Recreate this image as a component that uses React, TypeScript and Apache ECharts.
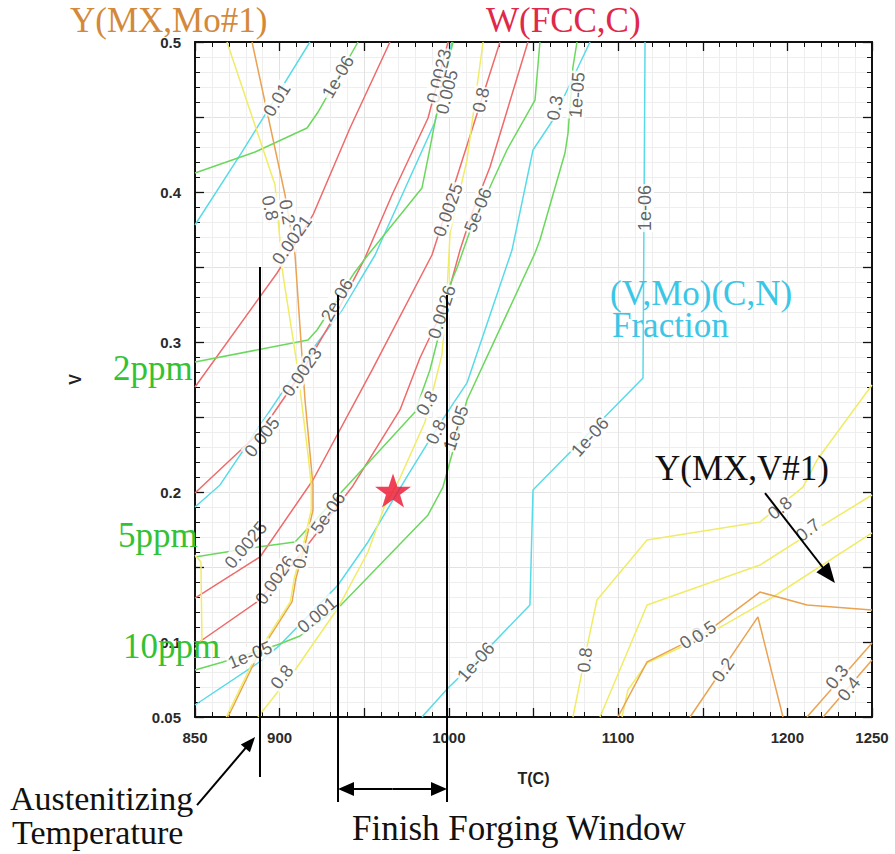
import React, { useEffect, useRef } from "react";
import * as echarts from "echarts";

// ---------- axis ticks ----------
const xTickLabels = [850, 900, 1000, 1100, 1200, 1250];
const yTickLabels = [0.05, 0.1, 0.2, 0.3, 0.4, 0.5];

// ---------- contour lines [T(C), V] ----------
// (V,Mo)(C,N) fraction - cyan
const cyan001 = [[850, 0.378], [877.8, 0.4267], [917.9, 0.5]];
const cyan0005 = [[850, 0.19], [864.8, 0.2047], [910.3, 0.2813], [936.9, 0.3213], [956.4, 0.358], [991.8, 0.4467], [1001.8, 0.5]];
const cyan1e05 = [[850, 0.058], [887.2, 0.086], [899, 0.0967], [934.5, 0.138], [952.2, 0.1667], [975.8, 0.2113], [993, 0.2427], [1010.7, 0.2727], [1037.3, 0.3613], [1049.7, 0.428], [1061.5, 0.448], [1083.4, 0.5]];
const cyan1e06 = [[984.1, 0.05], [999.5, 0.0693], [1016.6, 0.088], [1047.9, 0.1247], [1049.7, 0.2013], [1114.7, 0.276], [1115.9, 0.5]];
// W(FCC,C) - red
const red0021 = [[850, 0.27], [898.5, 0.346], [919.7, 0.3847], [941.6, 0.4427], [965.2, 0.5]];
const red0023 = [[850, 0.1993], [889.6, 0.2413], [913.2, 0.28], [934.5, 0.3213], [949.9, 0.3547], [966.4, 0.398], [987.7, 0.4493], [999.5, 0.5]];
const red0025 = [[850, 0.1293], [888.4, 0.1567], [919.7, 0.208], [954.6, 0.2813], [990, 0.358], [998.9, 0.3893], [1030.2, 0.5]];
const red0026 = [[850, 0.098], [886.6, 0.1267], [912, 0.158], [942.8, 0.2033], [971.1, 0.2547], [982.9, 0.2893], [997.7, 0.3247], [1006.6, 0.3613], [1013.7, 0.386], [1024.3, 0.4167], [1046.7, 0.5]];
// nitrogen ppm - green
const green1e06 = [[850, 0.4127], [885.5, 0.4267], [916.2, 0.4427], [922.7, 0.4533], [946.3, 0.5]];
const green2e06 = [[850, 0.2867], [916.8, 0.3013], [922.1, 0.308], [944.5, 0.3467], [952.2, 0.358], [984.1, 0.4027], [987.7, 0.4227], [991.8, 0.4467], [1002.4, 0.5]];
const green5e06 = [[850, 0.1567], [887.2, 0.1633], [909.1, 0.1667], [940.4, 0.2047], [980, 0.2533], [988.8, 0.2813], [994.8, 0.308], [998.9, 0.3333], [1004.8, 0.3493], [1013.7, 0.378], [1024.3, 0.4033], [1034.3, 0.428], [1050.9, 0.4613], [1053.8, 0.5]];
const green1e05 = [[850, 0.0813], [866.5, 0.0867], [898.4, 0.098], [912, 0.104], [935.7, 0.124], [987.7, 0.1847], [996.5, 0.2033], [1010.7, 0.2613], [1050.9, 0.3593], [1053.8, 0.368], [1068.6, 0.426], [1070.4, 0.4393], [1073.3, 0.4833], [1075.7, 0.5]];
// Y(MX,...) - yellow
const yellowLeft08 = [[868.9, 0.5], [897.3, 0.4047], [902, 0.3447], [910.3, 0.2847], [916.8, 0.2247], [918.7, 0.2047], [918.7, 0.188], [914, 0.1647], [908.7, 0.1427], [906.3, 0.1267], [886.2, 0.0913], [868.5, 0.05]];
const yellowEdge = [[850, 0.158], [853.5, 0.1533], [854.1, 0.1013], [850, 0.095]];
const yellow08 = [[887.2, 0.05], [909.1, 0.0813], [934.5, 0.1227], [952.2, 0.16], [962.3, 0.1913], [971.1, 0.2093], [985.9, 0.2467], [995.9, 0.2913], [998.9, 0.3333], [1000.7, 0.3727], [1010.7, 0.4213], [1020.2, 0.5]];
const yellow08R = [[1250, 0.2713], [1217.5, 0.2213], [1209.2, 0.2033], [1183.8, 0.18], [1117.1, 0.168], [1087.5, 0.128], [1081.6, 0.0967], [1073.3, 0.05]];
const yellow07R = [[1250, 0.198], [1219.3, 0.1767], [1183.8, 0.1513], [1117.1, 0.1247], [1089.3, 0.05]];
const yellow05R = [[1250, 0.1727], [1191.5, 0.13], [1152.5, 0.1047], [1117.1, 0.086], [1105.8, 0.068], [1102.3, 0.05]];
// Y(MX,Mo#1) - orange
const orange02L = [[883.7, 0.5], [903.2, 0.398], [909.1, 0.358], [915, 0.2613], [919.7, 0.2047], [919.7, 0.188], [915, 0.1647], [909.7, 0.1427], [907.3, 0.1267], [887.2, 0.0913], [869.5, 0.05]];
const orange03R = [[1099.9, 0.05], [1117.1, 0.0867], [1152.5, 0.1067], [1183.8, 0.1333], [1211.6, 0.1247], [1250, 0.1213]];
const orange02R = [[1142.5, 0.05], [1182.6, 0.1167], [1197.4, 0.05]];
const orange03C = [[1211.6, 0.05], [1250, 0.0993]];
const orange04C = [[1221.1, 0.05], [1250, 0.088]];

// contour labels: [T, V, text, rotation]
const contourLabels: [number, number, string, number][] = [
  [898.4, 0.4613, "0.01", 58],
  [934.5, 0.4767, "1e-06", 60],
  [994.2, 0.4773, "0.0023", 76],
  [998.9, 0.4667, "0.005", 76],
  [1019, 0.4613, "0.8", 78],
  [1062.7, 0.456, "0.3", 80],
  [1075.7, 0.4647, "1e-05", 86],
  [907.3, 0.368, "0.0021", 55],
  [894.3, 0.3893, "0.8", -78],
  [904.4, 0.3867, "0.2", -80],
  [913.2, 0.28, "0.0023", 55],
  [933.9, 0.328, "2e-06", 60],
  [889.6, 0.2367, "0.005", 52],
  [999.5, 0.388, "0.0025", 70],
  [1017.2, 0.388, "5e-06", 68],
  [995.9, 0.32, "0.0026", 72],
  [987.1, 0.2593, "0.8", 60],
  [992.4, 0.24, "0.8", 65],
  [1004.2, 0.2427, "1e-05", 72],
  [1083.4, 0.2367, "1e-06", 48],
  [1115.9, 0.3893, "1e-06", 90],
  [880.1, 0.1647, "0.0025", 50],
  [897.3, 0.1413, "0.0026", 55],
  [912.6, 0.1573, "0.2", 80],
  [928.6, 0.186, "5e-06", 55],
  [882.5, 0.0913, "1e-05", 22],
  [922.1, 0.118, "0.001", 40],
  [901.4, 0.0767, "0.8", 52],
  [1016, 0.0867, "1e-06", 48],
  [1080.4, 0.088, "0.8", 85],
  [1195.6, 0.1893, "0.8", 38],
  [1212.2, 0.1747, "0.7", 38],
  [1143.6, 0.1027, "0.3", 35],
  [1150.7, 0.1067, "0.5", 35],
  [1162, 0.0813, "0.2", 55],
  [1229.3, 0.0767, "0.3", 52],
  [1236.4, 0.0687, "0.4", 52],
];

// marked operating point
const starPoint = [[967, 0.201]];

// annotation geometry in data units
const austenitizingT = 888.4;
const austenitizingV = [0.35, 0.01];
const forgingWindowT = [934.5, 998.9];
const forgingWindowV = [0.3313, -0.0067];
const forgingArrowV = 0.002;
const austArrow = [[851.2, -0.0087], [885.5, 0.0367]];
const vmxArrow = [[1186.8, 0.1993], [1228.1, 0.1393]];

const CYAN = "#58dbe8";
const RED = "#ef6a6a";
const GREEN = "#6ad85c";
const YELLOW = "#f0ec66";
const ORANGE = "#e9a352";

const SANS = '"Liberation Sans", Arial, Helvetica, sans-serif';
const SERIF = '"Liberation Serif", "Times New Roman", serif';

function ls(name: string, data: number[][], color: string) {
  return {
    type: "line",
    name,
    data,
    showSymbol: false,
    symbol: "none",
    silent: true,
    z: 2,
    lineStyle: { color, width: 1.5 },
    itemStyle: { color },
  };
}

const xFmt = (v: number) => (xTickLabels.includes(Math.round(v)) ? String(Math.round(v)) : "");
const yFmt = (v: number) => {
  const r = Math.round(v * 100) / 100;
  return yTickLabels.some((t) => Math.abs(t - r) < 1e-9) ? String(r) : "";
};

export default function App() {
  const ref = useRef<HTMLDivElement>(null);
  useEffect(() => {
    if (!ref.current) return;
    const chart = echarts.init(ref.current, undefined, { renderer: "svg" });
    const frameLine = { show: true, onZero: false, lineStyle: { color: "#111", width: 2 } };
    const tick = { show: true, inside: true, length: 9, lineStyle: { color: "#111", width: 1.3 } };
    const minorTick = { show: true, splitNumber: 5, length: 5, lineStyle: { color: "#111", width: 1 } };
    const option: any = {
      animation: false,
      backgroundColor: "#fff",
      grid: { left: 195, top: 42, right: 23, bottom: 137, outerBoundsMode: "none" },
      xAxis: [
        {
          type: "value", min: 850, max: 1250, interval: 50, position: "bottom",
          axisLine: frameLine, axisTick: tick, minorTick,
          axisLabel: { formatter: xFmt, margin: 13, fontSize: 15, fontWeight: "bold", color: "#2a2a2a", fontFamily: SANS },
          splitLine: { show: true, lineStyle: { color: "#e2e2e2", width: 1 } },
          minorSplitLine: { show: true, lineStyle: { color: "#eeeeee", width: 1 } },
          name: "T(C)", nameLocation: "middle", nameGap: 53,
          nameTextStyle: { fontSize: 16, fontWeight: "bold", color: "#222", fontFamily: SANS },
        },
        {
          type: "value", min: 850, max: 1250, interval: 50, position: "top",
          axisLine: frameLine, axisTick: tick, minorTick,
          axisLabel: { show: false }, splitLine: { show: false },
        },
      ],
      yAxis: [
        {
          type: "value", min: 0.05, max: 0.5, interval: 0.05, position: "left",
          axisLine: frameLine, axisTick: tick, minorTick,
          axisLabel: { formatter: yFmt, margin: 14, fontSize: 15, fontWeight: "bold", color: "#2a2a2a", fontFamily: SANS },
          splitLine: { show: true, lineStyle: { color: "#e2e2e2", width: 1 } },
          minorSplitLine: { show: true, lineStyle: { color: "#eeeeee", width: 1 } },
          name: "V", nameLocation: "middle", nameGap: 112,
          nameTextStyle: { fontSize: 16, fontWeight: "bold", color: "#222", fontFamily: SANS },
        },
        {
          type: "value", min: 0.05, max: 0.5, interval: 0.05, position: "right",
          axisLine: frameLine, axisTick: tick, minorTick,
          axisLabel: { show: false }, splitLine: { show: false },
        },
      ],
      series: [
        ls("cyan 0.01", cyan001, CYAN),
        ls("cyan 0.005", cyan0005, CYAN),
        ls("cyan 1e-05", cyan1e05, CYAN),
        ls("cyan 1e-06", cyan1e06, CYAN),
        ls("red 0.0021", red0021, RED),
        ls("red 0.0023", red0023, RED),
        ls("red 0.0025", red0025, RED),
        ls("red 0.0026", red0026, RED),
        ls("green 1e-06", green1e06, GREEN),
        ls("green 2e-06", green2e06, GREEN),
        ls("green 5e-06", green5e06, GREEN),
        ls("green 1e-05", green1e05, GREEN),
        ls("orange 0.2 L", orange02L, ORANGE),
        ls("yellow 0.8 L", yellowLeft08, YELLOW),
        ls("yellow edge", yellowEdge, YELLOW),
        ls("yellow 0.8", yellow08, YELLOW),
        ls("yellow 0.8 R", yellow08R, YELLOW),
        ls("yellow 0.7 R", yellow07R, YELLOW),
        ls("yellow 0.5 R", yellow05R, YELLOW),
        ls("orange 0.3 R", orange03R, ORANGE),
        ls("orange 0.2 R", orange02R, ORANGE),
        ls("orange 0.3 C", orange03C, ORANGE),
        ls("orange 0.4 C", orange04C, ORANGE),
        {
          type: "scatter",
          name: "labels",
          silent: true,
          symbolSize: 0,
          z: 5,
          itemStyle: { color: "transparent" },
          label: {
            show: true, position: "inside", color: "#3c3c3c", fontSize: 18, fontFamily: SANS,
            backgroundColor: "#ffffff", padding: [0, 1],
          },
          data: contourLabels.map(([t, v, txt, rot]) => ({
            value: [t, v],
            label: { rotate: rot, formatter: txt },
          })),
        },
        {
          type: "scatter",
          name: "star",
          silent: true,
          z: 6,
          symbol: "path://M50,0 L61.8,35.1 L98.1,35.1 L68.8,56.7 L79.4,90.5 L50,69.7 L20.6,90.5 L31.2,56.7 L1.9,35.1 L38.2,35.1 Z",
          symbolSize: [36, 34],
          itemStyle: { color: "#ec1230" },
          data: starPoint,
        },
      ],
    };
    chart.setOption(option);

    const P = (t: number, v: number) => chart.convertToPixel({ xAxisIndex: 0, yAxisIndex: 0 }, [t, v]) as number[];
    const g: any[] = [];
    const blackLine = (a: number[], b: number[], w = 2) =>
      g.push({ type: "line", z: 100, shape: { x1: a[0], y1: a[1], x2: b[0], y2: b[1] }, style: { stroke: "#000", lineWidth: w } });
    const arrow = (from: number[], to: number[], L: number, W: number) => {
      const dx = to[0] - from[0], dy = to[1] - from[1];
      const len = Math.hypot(dx, dy);
      const ux = dx / len, uy = dy / len;
      const nx = -uy, ny = ux;
      const bx = to[0] - L * ux, by = to[1] - L * uy;
      blackLine(from, [to[0] - L * 0.7 * ux, to[1] - L * 0.7 * uy]);
      g.push({
        type: "polygon", z: 100,
        shape: { points: [[to[0], to[1]], [bx + W * nx, by + W * ny], [bx - W * nx, by - W * ny]] },
        style: { fill: "#000" },
      });
    };
    // austenitizing vertical line
    blackLine(P(austenitizingT, austenitizingV[0]), P(austenitizingT, austenitizingV[1]));
    // forging window lines
    forgingWindowT.forEach((t) => blackLine(P(t, forgingWindowV[0]), P(t, forgingWindowV[1])));
    // double arrow
    const a1 = P(forgingWindowT[0], forgingArrowV);
    const a2 = P(forgingWindowT[1], forgingArrowV);
    const mid = [(a1[0] + a2[0]) / 2, a1[1]];
    arrow(mid, a1, 16, 7);
    arrow(mid, a2, 16, 7);
    arrow(P(austArrow[0][0], austArrow[0][1]), P(austArrow[1][0], austArrow[1][1]), 15, 6);
    arrow(P(vmxArrow[0][0], vmxArrow[0][1]), P(vmxArrow[1][0], vmxArrow[1][1]), 20, 8);

    const txt = (text: string, x: number, y: number, fill: string, size = 35) =>
      g.push({
        type: "text", z: 110, x, y,
        style: { text, fill, fontSize: size, fontFamily: SERIF, align: "left", verticalAlign: "middle" },
      });
    txt("Y(MX,Mo#1)", 70, 20, "#d4893a");
    txt("W(FCC,C)", 486, 20, "#e0284a");
    txt("(V,Mo)(C,N)", 610, 293, "#3cc6e6");
    txt("Fraction", 612, 325, "#3cc6e6");
    txt("Y(MX,V#1)", 655, 468, "#111");
    txt("2ppm", 113, 368, "#33c233");
    txt("5ppm", 118, 535, "#33c233");
    txt("10ppm", 123, 646, "#33c233");
    txt("Austenitizing", 10, 798, "#111", 34);
    txt("Temperature", 12, 832, "#111", 34);
    txt("Finish Forging Window", 352, 828, "#111");

    chart.setOption({ graphic: g });
    return () => chart.dispose();
  }, []);
  return <div ref={ref} style={{ position: "absolute", left: 0, top: 0, width: 895, height: 854 }} />;
}
